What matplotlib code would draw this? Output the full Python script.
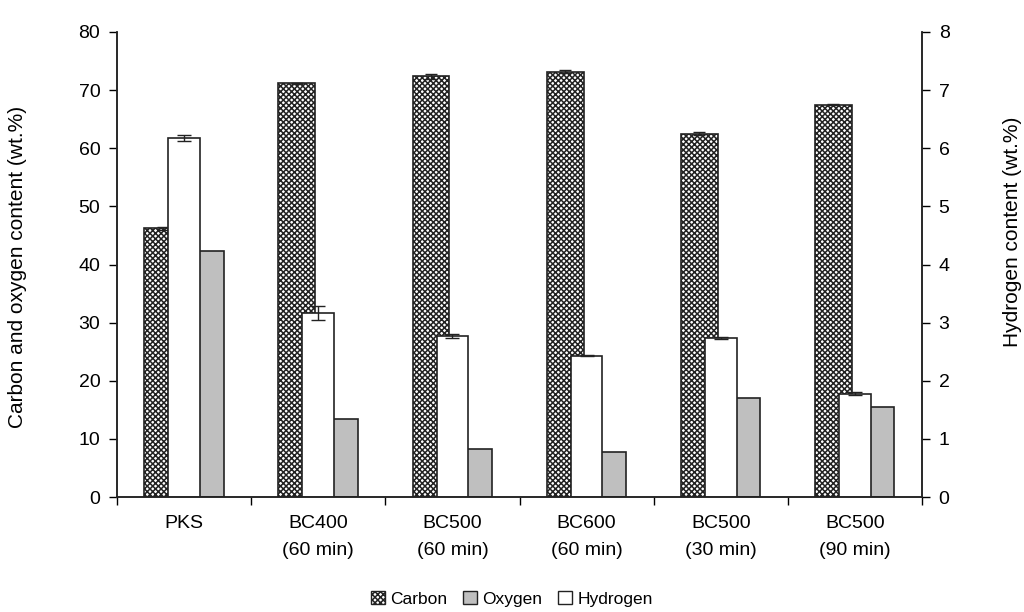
import matplotlib
matplotlib.use("Agg")
import matplotlib.pyplot as plt
import numpy as np
from matplotlib.patches import Patch

plt.rcParams['font.family'] = ['Liberation Sans', 'DejaVu Sans']
plt.rcParams['hatch.linewidth'] = 1.1

categories = ["PKS", "BC400\n(60 min)", "BC500\n(60 min)", "BC600\n(60 min)",
              "BC500\n(30 min)", "BC500\n(90 min)"]
carbon = [46.2, 71.2, 72.4, 73.2, 62.5, 67.5]
carbon_err = [0.2, 0.1, 0.4, 0.3, 0.25, 0.1]
oxygen = [42.4, 13.4, 8.2, 7.8, 17.1, 15.4]
hydrogen = [6.17, 3.16, 2.77, 2.43, 2.74, 1.78]
hydrogen_err = [0.05, 0.12, 0.04, 0.01, 0.02, 0.03]

fig = plt.figure(figsize=(10.24, 6.12), dpi=100)
ax1 = fig.add_axes([117/1024, 1-497/612, (922-117)/1024, (497-32)/612])
ax2 = ax1.twinx()

x = np.arange(len(categories))
ax1.bar(x - 0.16, carbon, width=0.275, facecolor='white', edgecolor='#222222',
        hatch='xxxxxx', linewidth=1.2, zorder=2)
ax1.errorbar(x - 0.16, carbon, yerr=carbon_err, fmt='none', ecolor='#222222',
             elinewidth=1, capsize=4, zorder=3)
ax1.bar(x + 0.16, oxygen, width=0.27, facecolor='#bfbfbf', edgecolor='#222222',
        linewidth=1.2, zorder=2)
ax2.bar(x, hydrogen, width=0.235, facecolor='white', edgecolor='#222222',
        linewidth=1.2, zorder=2)
ax2.errorbar(x, hydrogen, yerr=hydrogen_err, fmt='none', ecolor='#222222',
             elinewidth=1, capsize=5, zorder=3)

ax1.set_xlim(-0.5, len(categories) - 0.5)
ax1.set_ylim(0, 80)
ax2.set_ylim(0, 8)
ax1.set_yticks(np.arange(0, 81, 10))
ax2.set_yticks(np.arange(0, 9, 1))

ax1.set_xticks(x)
ax1.set_xticklabels(categories, fontsize=14, linespacing=1.8)
ax1.set_xticks(np.arange(-0.5, len(categories), 1), minor=True)
ax1.tick_params(axis='x', which='major', length=0, pad=13)
ax1.tick_params(axis='x', which='minor', length=6, width=1, direction='out')
ax1.tick_params(axis='y', length=6, width=1, direction='out', labelsize=14, pad=6)
ax2.tick_params(axis='y', length=6, width=1, direction='out', labelsize=14, pad=6)

for ax in (ax1, ax2):
    ax.spines['top'].set_visible(False)
    for s in ('left', 'right', 'bottom'):
        ax.spines[s].set_linewidth(1.1)
        ax.spines[s].set_color('#222222')

ax1.set_ylabel("Carbon and oxygen content (wt.%)", fontsize=15)
ax2.set_ylabel("Hydrogen content (wt.%)", fontsize=15)
ax1.yaxis.set_label_coords(-0.112, 0.495)
ax2.yaxis.set_label_coords(1.10, 0.57)

handles = [Patch(facecolor='white', edgecolor='#222222', hatch='xxxxxx', label='Carbon'),
           Patch(facecolor='#bfbfbf', edgecolor='#222222', label='Oxygen'),
           Patch(facecolor='white', edgecolor='#222222', label='Hydrogen')]
fig.legend(handles=handles, loc='center', bbox_to_anchor=(0.5, 1-599/612), ncol=3,
           frameon=False, fontsize=12.5, handlelength=0.8, handleheight=0.8,
           handletextpad=0.3, columnspacing=0.9)

fig.savefig("out.png", dpi=100)
